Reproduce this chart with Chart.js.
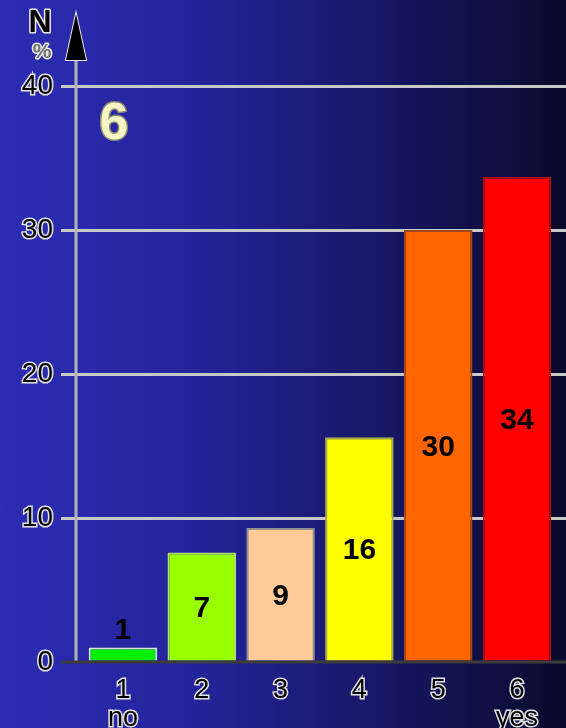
<!DOCTYPE html>
<html><head><meta charset="utf-8">
<script src="https://cdn.jsdelivr.net/npm/chart.js@4/dist/chart.umd.min.js"></script>
<style>
html,body{margin:0;padding:0;}
body{width:566px;height:728px;overflow:hidden;background:linear-gradient(to right,#2c2cb4 0%,#24249a 35%,#161660 70%,#0a0a2c 100%);}
#wrap{position:absolute;left:0;top:0;width:566px;height:728px;}
</style></head>
<body><div id="wrap"><canvas id="c" width="566" height="728"></canvas></div>
<script>
const categories = [['1','no'], '2', '3', '4', '5', ['6','yes']];
const values = [1.0, 7.6, 9.3, 15.6, 30.0, 33.7];
const valueLabels = ['1', '7', '9', '16', '30', '34'];
const yTicks = [0, 10, 20, 30, 40];
const panelLabel = '6';
const axisTitle = ['N', '%'];

const fillColors = ['#00ee00', '#99ff00', '#ffcc99', '#ffff00', '#ff6600', '#ff0000'];
const borderColors = ['#e0e0e0', '#b8e070', '#909090', '#a8a850', '#a04818', '#a81010'];

const FONT = "'Liberation Sans', Arial, sans-serif";

function strokedText(ctx, txt, x, y, font, fill, stroke, sw) {
  ctx.font = font;
  ctx.lineJoin = 'round';
  ctx.strokeStyle = stroke;
  ctx.lineWidth = sw;
  ctx.strokeText(txt, x, y);
  ctx.fillStyle = fill;
  ctx.fillText(txt, x, y);
}

const decor = {
  id: 'decor',
  beforeDatasetsDraw(chart) {
    const ctx = chart.ctx, a = chart.chartArea, ys = chart.scales.y;
    ctx.save();
    // y axis line
    ctx.strokeStyle = '#b4b4b4';
    ctx.lineWidth = 3;
    ctx.beginPath();
    ctx.moveTo(a.left, 60);
    ctx.lineTo(a.left, ys.getPixelForValue(0));
    ctx.stroke();
    // baseline
    ctx.strokeStyle = '#3c3c3c';
    ctx.beginPath();
    ctx.moveTo(a.left - 15, ys.getPixelForValue(0));
    ctx.lineTo(a.right, ys.getPixelForValue(0));
    ctx.stroke();
    ctx.restore();
  },
  afterDatasetsDraw(chart) {
    const ctx = chart.ctx, a = chart.chartArea;
    const meta = chart.getDatasetMeta(0);
    ctx.save();
    ctx.textAlign = 'center';
    ctx.textBaseline = 'middle';
    meta.data.forEach((bar, i) => {
      const props = bar.getProps(['x', 'y', 'base'], true);
      let y;
      if (props.base - props.y < 40) y = props.y - 17;
      else y = (props.y + props.base) / 2 + 2;
      ctx.font = 'bold 30px ' + FONT;
      ctx.fillStyle = '#000';
      ctx.fillText(valueLabels[i], props.x, y);
    });
    // arrow
    ctx.beginPath();
    ctx.moveTo(a.left, 14);
    ctx.lineTo(a.left + 10, 60);
    ctx.lineTo(a.left - 10, 60);
    ctx.closePath();
    ctx.lineJoin = 'miter';
    ctx.strokeStyle = '#e8e8e8';
    ctx.lineWidth = 2;
    ctx.stroke();
    ctx.fillStyle = '#000';
    ctx.fill();
    // axis title
    ctx.textAlign = 'center';
    ctx.textBaseline = 'alphabetic';
    strokedText(ctx, axisTitle[0], 40, 32, 'bold 32px ' + FONT, '#000', '#e8e8e8', 3);
    strokedText(ctx, axisTitle[1], 42, 58, 'bold 21px ' + FONT, '#707070', '#e8e8e8', 3);
    // panel label
    strokedText(ctx, panelLabel, 114, 139, 'bold 52px ' + FONT, '#f4f4c4', '#8a8a70', 3);
    ctx.restore();
  }
};

const xMin = -0.596, xMax = 5.622;

new Chart(document.getElementById('c'), {
  type: 'bar',
  data: {
    datasets: [{
      data: values.map((v, i) => ({ x: i, y: v })),
      backgroundColor: fillColors,
      borderColor: borderColors,
      borderWidth: 2,
      borderSkipped: 'bottom',
      barPercentage: 0.87,
      categoryPercentage: 1.0
    }]
  },
  options: {
    responsive: false,
    animation: false,
    devicePixelRatio: 1,
    layout: { padding: { top: 86, right: 0, left: 0, bottom: 0 } },
    plugins: { legend: { display: false }, tooltip: { enabled: false } },
    scales: {
      x: {
        type: 'linear',
        min: xMin,
        max: xMax,
        offset: false,
        grid: { display: false },
        border: { display: false },
        afterBuildTicks: s => { s.ticks = categories.map((c, i) => ({ value: i })); },
        afterFit: s => { s.height = 66; },
        ticks: {
          autoSkip: false,
          maxRotation: 0,
          padding: 6,
          callback: (v) => categories[Math.round(v)],
          color: '#000',
          textStrokeColor: '#e0e0e0',
          textStrokeWidth: 3,
          font: { family: FONT, size: 27, lineHeight: 1.05 }
        }
      },
      y: {
        min: 0,
        max: 40,
        afterBuildTicks: s => { s.ticks = yTicks.map(v => ({ value: v })); },
        afterFit: s => { s.width = 76; },
        border: { display: false },
        grid: {
          color: ctx => ctx.tick && ctx.tick.value === 0 ? 'rgba(0,0,0,0)' : '#c8c8c8',
          lineWidth: 3,
          tickLength: 15,
          drawTicks: true
        },
        ticks: {
          padding: 8,
          color: '#000',
          textStrokeColor: '#e0e0e0',
          textStrokeWidth: 3,
          font: { family: FONT, size: 28 }
        }
      }
    }
  },
  plugins: [decor]
});
</script>
</body></html>
